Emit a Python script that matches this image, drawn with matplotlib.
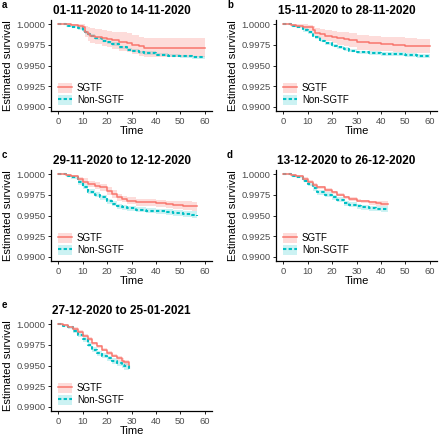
import matplotlib
matplotlib.use('Agg')
import matplotlib.pyplot as plt
from matplotlib.patches import Patch
from matplotlib.lines import Line2D

plt.rcParams['font.family'] = ['Liberation Sans', 'DejaVu Sans']

RED = '#F8766D'
CYAN = '#00BFC4'

titles = ['01-11-2020 to 14-11-2020', '15-11-2020 to 28-11-2020',
          '29-11-2020 to 12-12-2020', '13-12-2020 to 26-12-2020',
          '27-12-2020 to 25-01-2021']
letters = ['a', 'b', 'c', 'd', 'e']

# panel a
t_a = [0, 3, 5, 8, 10, 11, 12, 13, 15, 18, 20, 22, 25, 28, 30, 33, 35, 40, 45, 50, 55, 60]
sg_a = [1.0, 1.0, 0.99995, 0.9998, 0.9996, 0.9991, 0.9988, 0.9986, 0.9985, 0.9983, 0.9982,
        0.9981, 0.9979, 0.9977, 0.9975, 0.9973, 0.9971, 0.9971, 0.9971, 0.9971, 0.9971, 0.9971]
sg_a_hi = [1.0, 1.0, 1.0, 1.0, 1.0, 0.9998, 0.9996, 0.9995, 0.9994, 0.9993, 0.9992,
           0.9991, 0.9990, 0.9989, 0.9987, 0.9985, 0.9983, 0.9983, 0.9983, 0.9983, 0.9983, 0.9983]
sg_a_lo = [1.0, 0.9999, 0.9998, 0.9994, 0.9990, 0.9984, 0.9980, 0.9977, 0.9976, 0.9973, 0.9972,
           0.9970, 0.9968, 0.9966, 0.9964, 0.9962, 0.9960, 0.9960, 0.9960, 0.9960, 0.9960, 0.9960]
ns_a = [1.0, 0.9998, 0.9997, 0.9995, 0.9992, 0.9990, 0.9988, 0.9986, 0.9983, 0.9980, 0.9978,
        0.9976, 0.9972, 0.9969, 0.9968, 0.9966, 0.9965, 0.9963, 0.9962, 0.9961, 0.9960, 0.9960]
ns_a_hi = [1.0, 0.9999, 0.9998, 0.9997, 0.9994, 0.9992, 0.9990, 0.9988, 0.9985, 0.9982, 0.9980,
           0.9978, 0.9974, 0.9971, 0.9970, 0.9968, 0.9967, 0.9965, 0.9964, 0.9963, 0.9962, 0.9962]
ns_a_lo = [1.0, 0.9997, 0.9996, 0.9993, 0.9990, 0.9988, 0.9986, 0.9984, 0.9981, 0.9978, 0.9976,
           0.9974, 0.9970, 0.9967, 0.9966, 0.9964, 0.9963, 0.9961, 0.9960, 0.9959, 0.9958, 0.9957]

# panel b
t_b = [0, 3, 5, 8, 10, 12, 13, 15, 17, 20, 22, 25, 27, 30, 35, 40, 45, 50, 55, 60]
sg_b = [1.0, 0.9999, 0.9998, 0.9997, 0.9996, 0.9993, 0.9989, 0.9988, 0.9986, 0.9984, 0.9983,
        0.9982, 0.9981, 0.9978, 0.9977, 0.9976, 0.9975, 0.9974, 0.9974, 0.9974]
sg_b_hi = [1.0, 1.0, 1.0, 1.0, 0.9999, 0.9998, 0.9995, 0.9994, 0.9993, 0.9992, 0.9991,
           0.9990, 0.9989, 0.9987, 0.9986, 0.9985, 0.9984, 0.9983, 0.9982, 0.9982]
sg_b_lo = [1.0, 0.9998, 0.9996, 0.9994, 0.9992, 0.9988, 0.9983, 0.9982, 0.9980, 0.9977, 0.9975,
           0.9974, 0.9972, 0.9969, 0.9968, 0.9967, 0.9966, 0.9965, 0.9965, 0.9965]
ns_b = [1.0, 0.9998, 0.9996, 0.9993, 0.9990, 0.9986, 0.9984, 0.9980, 0.9977, 0.9974, 0.9972,
        0.9970, 0.9968, 0.9966, 0.9965, 0.9964, 0.9964, 0.9963, 0.9962, 0.9961]
ns_b_hi = [1.0, 0.9999, 0.9997, 0.9995, 0.9992, 0.9988, 0.9986, 0.9982, 0.9979, 0.9976, 0.9974,
           0.9972, 0.9970, 0.9968, 0.9967, 0.9966, 0.9966, 0.9965, 0.9964, 0.9964]
ns_b_lo = [1.0, 0.9997, 0.9995, 0.9991, 0.9988, 0.9984, 0.9982, 0.9978, 0.9975, 0.9972, 0.9970,
           0.9968, 0.9966, 0.9964, 0.9963, 0.9962, 0.9961, 0.9960, 0.9959, 0.9958]

# panel c
t_c = [0, 3, 5, 8, 10, 12, 15, 17, 20, 22, 24, 26, 28, 32, 36, 40, 44, 47, 51, 55, 57]
sg_c = [1.0, 0.9999, 0.9998, 0.9994, 0.9991, 0.9988, 0.9986, 0.9984, 0.9980, 0.9976, 0.9972,
        0.9970, 0.9968, 0.9966, 0.9966, 0.9965, 0.9964, 0.9963, 0.9962, 0.9961, 0.9961]
sg_c_hi = [1.0, 1.0, 0.9999, 0.9997, 0.9995, 0.9992, 0.9990, 0.9988, 0.9985, 0.9981, 0.9976,
           0.9974, 0.9972, 0.9970, 0.9970, 0.9969, 0.9968, 0.9968, 0.9967, 0.9966, 0.9966]
sg_c_lo = [1.0, 0.9998, 0.9996, 0.9991, 0.9988, 0.9984, 0.9982, 0.9980, 0.9975, 0.9971, 0.9968,
           0.9966, 0.9964, 0.9962, 0.9961, 0.9960, 0.9959, 0.9958, 0.9957, 0.9956, 0.9955]
ns_c = [1.0, 0.9998, 0.9996, 0.9990, 0.9985, 0.9979, 0.9975, 0.9972, 0.9967, 0.9964, 0.9961,
        0.9960, 0.9959, 0.9957, 0.9956, 0.9955, 0.9954, 0.9953, 0.9952, 0.9951, 0.9950]
ns_c_hi = [1.0, 0.9999, 0.9998, 0.9993, 0.9988, 0.9982, 0.9978, 0.9975, 0.9970, 0.9967, 0.9964,
           0.9963, 0.9962, 0.9960, 0.9959, 0.9958, 0.9958, 0.9957, 0.9956, 0.9955, 0.9955]
ns_c_lo = [1.0, 0.9997, 0.9994, 0.9987, 0.9982, 0.9976, 0.9972, 0.9969, 0.9964, 0.9961, 0.9958,
           0.9957, 0.9956, 0.9954, 0.9953, 0.9952, 0.9950, 0.9949, 0.9948, 0.9947, 0.9946]

# panel d
t_d = [0, 3, 5, 8, 10, 12, 14, 17, 20, 22, 25, 27, 30, 32, 35, 38, 40, 43]
sg_d = [1.0, 0.9999, 0.9998, 0.9994, 0.9991, 0.9987, 0.9984, 0.9981, 0.9978, 0.9975, 0.9972,
        0.9970, 0.9968, 0.9967, 0.9966, 0.9965, 0.9964, 0.9964]
sg_d_hi = [1.0, 1.0, 0.9999, 0.9996, 0.9993, 0.9989, 0.9986, 0.9983, 0.9980, 0.9977, 0.9974,
           0.9972, 0.9970, 0.9969, 0.9968, 0.9967, 0.9967, 0.9967]
sg_d_lo = [1.0, 0.9998, 0.9997, 0.9992, 0.9989, 0.9985, 0.9982, 0.9979, 0.9976, 0.9973, 0.9970,
           0.9968, 0.9966, 0.9965, 0.9963, 0.9962, 0.9961, 0.9960]
ns_d = [1.0, 0.9998, 0.9996, 0.9992, 0.9988, 0.9983, 0.9978, 0.9975, 0.9972, 0.9969, 0.9965,
        0.9963, 0.9961, 0.9960, 0.9959, 0.9958, 0.9958, 0.9958]
ns_d_hi = [1.0, 0.9999, 0.9997, 0.9994, 0.9990, 0.9986, 0.9981, 0.9978, 0.9975, 0.9972, 0.9968,
           0.9966, 0.9964, 0.9963, 0.9962, 0.9961, 0.9961, 0.9961]
ns_d_lo = [1.0, 0.9997, 0.9995, 0.9990, 0.9986, 0.9980, 0.9975, 0.9972, 0.9969, 0.9966, 0.9962,
           0.9960, 0.9958, 0.9957, 0.9956, 0.9955, 0.9954, 0.9954]

# panel e
t_e = [0, 2, 4, 6, 8, 10, 12, 14, 16, 18, 20, 22, 24, 26, 27, 29]
sg_e = [1.0, 0.9999, 0.9997, 0.9994, 0.9991, 0.9986, 0.9982, 0.9977, 0.9973, 0.9969, 0.9965,
        0.9962, 0.9959, 0.9956, 0.9954, 0.9951]
sg_e_hi = [1.0, 1.0, 0.9998, 0.9996, 0.9993, 0.9988, 0.9984, 0.9979, 0.9975, 0.9971, 0.9967,
           0.9964, 0.9962, 0.9959, 0.9957, 0.9954]
sg_e_lo = [1.0, 0.9998, 0.9996, 0.9992, 0.9989, 0.9984, 0.9980, 0.9975, 0.9971, 0.9967, 0.9963,
           0.9960, 0.9956, 0.9953, 0.9951, 0.9948]
ns_e = [1.0, 0.9998, 0.9996, 0.9992, 0.9987, 0.9982, 0.9975, 0.9969, 0.9965, 0.9962, 0.9959,
        0.9956, 0.9953, 0.9951, 0.9949, 0.9946]
ns_e_hi = [1.0, 0.9999, 0.9997, 0.9994, 0.9990, 0.9985, 0.9978, 0.9972, 0.9968, 0.9965, 0.9962,
           0.9959, 0.9956, 0.9954, 0.9953, 0.9950]
ns_e_lo = [1.0, 0.9997, 0.9994, 0.9989, 0.9984, 0.9979, 0.9972, 0.9966, 0.9962, 0.9959, 0.9956,
           0.9952, 0.9949, 0.9947, 0.9945, 0.9941]

panels = [
    (t_a, sg_a, sg_a_lo, sg_a_hi, ns_a, ns_a_lo, ns_a_hi),
    (t_b, sg_b, sg_b_lo, sg_b_hi, ns_b, ns_b_lo, ns_b_hi),
    (t_c, sg_c, sg_c_lo, sg_c_hi, ns_c, ns_c_lo, ns_c_hi),
    (t_d, sg_d, sg_d_lo, sg_d_hi, ns_d, ns_d_lo, ns_d_hi),
    (t_e, sg_e, sg_e_lo, sg_e_hi, ns_e, ns_e_lo, ns_e_hi),
]

y_ticks = [0.9900, 0.9925, 0.9950, 0.9975, 1.0000]
x_ticks = [0, 10, 20, 30, 40, 50, 60]

W, H = 440, 436
fig = plt.figure(figsize=(4.4, 4.36), dpi=100)

# (left px, top px) of each axes box
boxes = [(51, 20), (276, 20), (51, 170), (276, 170), (51, 320)]
aw, ah = 161, 91
DASH = (0, (1.6, 1.1))

for i, (t, sg, sg_lo, sg_hi, ns, ns_lo, ns_hi) in enumerate(panels):
    lx, ty = boxes[i]
    ax = fig.add_axes([lx / W, 1 - (ty + ah) / H, aw / W, ah / H])
    ax.fill_between(t, ns_lo, ns_hi, step='post', color=CYAN, alpha=0.2, lw=0)
    ax.fill_between(t, sg_lo, sg_hi, step='post', color=RED, alpha=0.25, lw=0)
    ax.plot(t, ns, drawstyle='steps-post', color=CYAN, lw=1.5, ls=DASH)
    ax.plot(t, sg, drawstyle='steps-post', color=RED, lw=1.1)

    ax.set_xlim(-3, 63)
    ax.set_ylim(0.9895, 1.0005)
    ax.set_xticks(x_ticks)
    ax.set_yticks(y_ticks)
    ax.set_yticklabels(['%.4f' % v for v in y_ticks])
    for s in ['top', 'right']:
        ax.spines[s].set_visible(False)
    for s in ['left', 'bottom']:
        ax.spines[s].set_linewidth(0.9)
    ax.tick_params(length=2.5, width=0.6, labelsize=6.8, labelcolor='#4D4D4D', pad=1.5)
    ax.set_xlabel('Time', fontsize=8, labelpad=0)
    ax.set_ylabel('Estimated survival', fontsize=8, labelpad=2)

    h_sg = (Patch(facecolor=RED, alpha=0.25, lw=0), Line2D([], [], color=RED, lw=1.1))
    h_ns = (Patch(facecolor=CYAN, alpha=0.2, lw=0),
            Line2D([], [], color=CYAN, lw=1.5, ls=DASH))
    ax.legend([h_sg, h_ns], ['SGTF', 'Non-SGTF'], loc='lower left', frameon=False,
              fontsize=7, handlelength=1.4, handleheight=1.3, handletextpad=0.5,
              labelspacing=0.15, borderaxespad=0.2, bbox_to_anchor=(0.01, 0.0))

    fig.text((lx + aw / 2 - 10) / W, 1 - (ty - 9) / H, titles[i], fontsize=8.5,
             fontweight='bold', ha='center', va='center')
    fig.text((lx - 49) / W, 1 - (ty - 15) / H, letters[i], fontsize=7,
             fontweight='bold', ha='left', va='center')

fig.savefig('out.png', dpi=100)
